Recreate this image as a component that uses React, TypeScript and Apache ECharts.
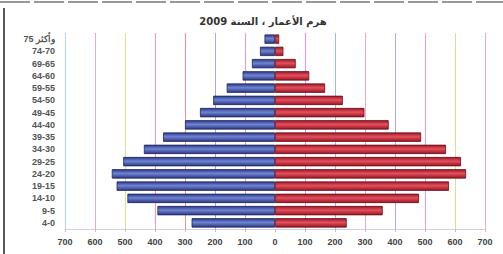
import React, { useEffect, useRef } from "react";
import * as echarts from "echarts";

const ageGroups = ["4-0", "9-5", "14-10", "19-15", "24-20", "29-25", "34-30", "39-35", "44-40", "49-45", "54-50", "59-55", "64-60", "69-65", "74-70", "75 وأكثر"];
const males = [278, 392, 492, 528, 544, 506, 437, 373, 300, 250, 206, 161, 108, 77, 50, 35];
const females = [239, 359, 480, 580, 637, 620, 570, 487, 379, 298, 226, 167, 114, 69, 28, 14];
const xTicks = [-700, 700, 100];
const gridValues = [-700, -600, -500, -400, -300, -200, -100, 100, 200, 300, 400, 500, 600, 700];
const titleText = "هرم الأعمار ، السنة 2009";

const gridColors = ["#8cc8ee", "#f080a8", "#cad860", "#f07090", "#ee6060", "#8080ee", "#ee70a0", "#e060d8", "#70a0ee", "#ee80a8", "#9a80ee", "#ee70b8", "#d0d060", "#f080a8"];

export default function App() {
  const ref = useRef<HTMLDivElement>(null);
  useEffect(() => {
    if (!ref.current) return;
    const chart = echarts.init(ref.current, null, { renderer: "svg" });
    const blue = new echarts.graphic.LinearGradient(0, 0, 0, 1, [
      { offset: 0, color: "#2e3b86" },
      { offset: 0.45, color: "#6f84d4" },
      { offset: 1, color: "#2c3880" },
    ]);
    const red = new echarts.graphic.LinearGradient(0, 0, 0, 1, [
      { offset: 0, color: "#a01824" },
      { offset: 0.45, color: "#e2505e" },
      { offset: 1, color: "#9c1622" },
    ]);
    chart.setOption({
      animation: false,
      backgroundColor: "#ffffff",
      title: {
        text: titleText,
        left: 258,
        top: 11,
        textAlign: "center",
        textStyle: { fontSize: 10, fontWeight: "bold", color: "#333", fontFamily: "DejaVu Sans" },
      },
      grid: { left: 65, right: 18, top: 33, bottom: 25 },
      xAxis: {
        type: "value",
        min: xTicks[0],
        max: xTicks[1],
        interval: xTicks[2],
        axisLine: { show: true, lineStyle: { color: "#d0d0e0", width: 1 } },
        axisTick: { show: true, length: 3, lineStyle: { color: "#d8b0d0" } },
        axisLabel: {
          formatter: (v: number) => String(Math.abs(v)),
          fontSize: 9,
          fontWeight: "bold",
          color: "#444",
          fontFamily: "Liberation Sans",
          margin: 8,
        },
        splitLine: { show: false },
      },
      yAxis: {
        type: "category",
        data: ageGroups,
        axisLine: { show: false },
        axisTick: { show: false },
        axisLabel: {
          interval: 0,
          fontSize: 9,
          fontWeight: "bold",
          color: "#555",
          fontFamily: "Liberation Sans",
          margin: 10,
        },
      },
      series: [
        {
          name: "males",
          type: "bar",
          stack: "pop",
          z: 3,
          data: males.map((v) => -v),
          barCategoryGap: "24%",
          itemStyle: { color: blue, borderColor: "#1e2660", borderWidth: 0.8 },
        },
        {
          name: "females",
          type: "bar",
          stack: "pop",
          z: 3,
          data: females,
          barCategoryGap: "24%",
          itemStyle: { color: red, borderColor: "#6a0e16", borderWidth: 0.8 },
          markLine: {
            silent: true,
            z: 1,
            symbol: "none",
            label: { show: false },
            data: gridValues.map((v, i) => ({ xAxis: v, lineStyle: { color: gridColors[i], width: 1, type: "solid", opacity: 0.7 } })),
          },
        },
      ],
      graphic: [
        { type: "line", shape: { x1: 4, y1: 8, x2: 4, y2: 254 }, style: { stroke: "#222", lineWidth: 1.5 } },
        { type: "line", shape: { x1: 0, y1: 2, x2: 503, y2: 2 }, style: { stroke: "#333", lineWidth: 1.2, lineDash: [30, 4] } },
      ],
    });
    return () => chart.dispose();
  }, []);
  return <div ref={ref} style={{ width: 503, height: 254, position: "absolute", left: 0, top: 0 }} />;
}
